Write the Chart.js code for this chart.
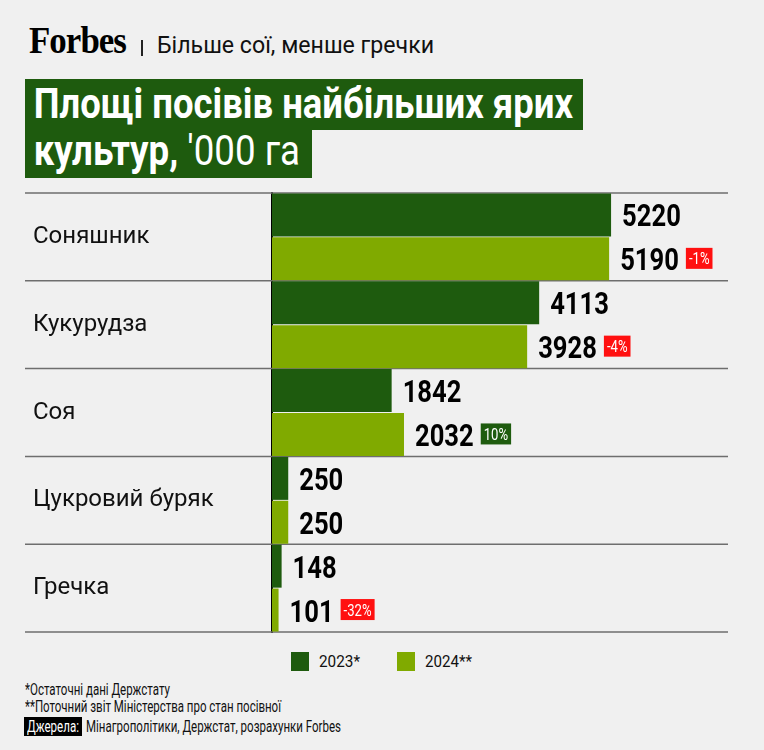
<!DOCTYPE html>
<html>
<head>
<meta charset="utf-8">
<script src="https://cdn.jsdelivr.net/npm/chart.js@4"></script>
<style>
  body { margin: 0; background: #f0f0f0; width: 764px; height: 750px; overflow: hidden; position: relative;
         font-family: Roboto, sans-serif; color: #111; }
  .abs { position: absolute; white-space: nowrap; }
  .fit { display: inline-block; transform-origin: 0 0; }
  .logo { left: 29px; top: 20px; font-family: "Liberation Serif", serif; font-weight: bold; font-size: 37px;
          letter-spacing: -1px; color: #000; line-height: 42px; }
  .pipe { left: 141px; top: 40px; width: 1.5px; height: 16px; background: #222; }
  .sub { left: 157px; top: 30px; font-size: 24px; line-height: 30px; }
  .box { background: #1e5b0e; color: #fff; left: 25px; overflow: hidden; }
  .box .fit { font-weight: bold; font-size: 42px; line-height: 48px; padding-left: 10px; }
  .thin { font-weight: normal; }
  #wrap { position: absolute; left: 25px; top: 191px; width: 703px; height: 443px; }
  .note { left: 25px; font-size: 16px; line-height: 18px; }
  .srcTag { left: 24px; top: 717px; width: 58px; height: 19px; background: #000; }
  .leg { top: 652px; width: 18px; height: 19px; }
  .legTxt { top: 651px; font-size: 17px; line-height: 20px; }
</style>
</head>
<body>
<div class="abs logo"><span class="fit" data-w="97">Forbes</span></div>
<div class="abs pipe"></div>
<div class="abs sub"><span class="fit" data-w="277">Більше сої, менше гречки</span></div>
<div class="abs box" style="top:79px;width:558px;height:51px"><span class="fit" data-w="548" style="margin-top:1px">Площі посівів найбільших ярих</span></div>
<div class="abs box" style="top:130px;width:287px;height:48px"><span class="fit" data-w="275" style="margin-top:-3px">культур, <span class="thin">'000 га</span></span></div>
<div id="wrap"><canvas id="chart"></canvas></div>
<div id="legend"></div>
<div class="abs note" style="top:681px"><span class="fit" data-w="145">*Остаточні дані Держстату</span></div>
<div class="abs note" style="top:698px"><span class="fit" data-w="256">**Поточний звіт Міністерства про стан посівної</span></div>
<div class="abs srcTag"></div>
<div class="abs note" style="top:718px;left:27px;color:#fff"><span class="fit" data-w="52">Джерела:</span></div>
<div class="abs note" style="top:718px;left:86px"><span class="fit" data-w="255">Мінагрополітики, Держстат, розрахунки Forbes</span></div>
<script>
const crops = ["Соняшник", "Кукурудза", "Соя", "Цукровий буряк", "Гречка"];
const area2023 = [5220, 4113, 1842, 250, 148];
const area2024 = [5190, 3928, 2032, 250, 101];
const change = ["-1%", "-4%", "10%", "", "-32%"];
const seriesNames = ["2023*", "2024**"];
const colors = ["#1e5b0e", "#80aa00"];

// html legend
const legPos = [[291, 319, 41], [397, 425, 47]];
document.getElementById('legend').innerHTML = seriesNames.map((n, i) =>
  `<div class="abs leg" style="left:${legPos[i][0]}px;background:${colors[i]}"></div>` +
  `<div class="abs legTxt" style="left:${legPos[i][1]}px"><span class="fit" data-w="${legPos[i][2]}">${n}</span></div>`
).join('');

// squeeze text to the condensed widths of the original
document.querySelectorAll('.fit').forEach(el => {
  const w = +el.dataset.w;
  el.style.transform = `scaleX(${w / el.getBoundingClientRect().width})`;
});

const FONT = 'Roboto, sans-serif';
const SQ = 0.8; // horizontal squeeze for canvas numbers

// separators between categories, full width
const separators = {
  id: 'separators',
  beforeDatasetsDraw(chart) {
    const ctx = chart.ctx, y = chart.scales.y;
    const step = y.getPixelForValue(1) - y.getPixelForValue(0);
    ctx.save();
    ctx.strokeStyle = '#6e6e6e';
    ctx.lineWidth = 1.5;
    for (let i = 0; i <= crops.length; i++) {
      const py = y.getPixelForValue(i) - step / 2;
      ctx.beginPath();
      ctx.moveTo(0, py);
      ctx.lineTo(chart.width, py);
      ctx.stroke();
    }
    ctx.restore();
  }
};

function squeezedText(ctx, txt, x, y) {
  ctx.save();
  ctx.translate(x, y);
  ctx.scale(SQ, 1);
  ctx.fillText(txt, 0, 0);
  ctx.restore();
  return ctx.measureText(txt).width * SQ;
}

// value labels and change badges
const valueLabels = {
  id: 'valueLabels',
  afterDatasetsDraw(chart) {
    const ctx = chart.ctx;
    ctx.save();
    ctx.textBaseline = 'alphabetic';
    ctx.textAlign = 'left';
    chart.data.datasets.forEach((ds, di) => {
      chart.getDatasetMeta(di).data.forEach((bar, i) => {
        const x = bar.x + 11;
        ctx.font = 'bold 32px ' + FONT;
        ctx.fillStyle = '#000';
        const w = squeezedText(ctx, String(ds.data[i]), x, bar.y + 11.5);
        if (di === 1 && change[i]) {
          ctx.font = '16px ' + FONT;
          const bw = ctx.measureText(change[i]).width * 0.82 + 6;
          const bx = x + w + 7;
          ctx.fillStyle = change[i].startsWith('-') ? '#ff1010' : '#1e5b0e';
          ctx.fillRect(bx, bar.y - 11, bw, 21);
          ctx.fillStyle = '#fff';
          ctx.save();
          ctx.translate(bx + 3, bar.y + 5.5);
          ctx.scale(0.82, 1);
          ctx.fillText(change[i], 0, 0);
          ctx.restore();
        }
      });
    });
    ctx.restore();
  }
};

new Chart(document.getElementById('chart'), {
  type: 'bar',
  data: {
    labels: crops,
    datasets: [
      { label: seriesNames[0], data: area2023, backgroundColor: colors[0] },
      { label: seriesNames[1], data: area2024, backgroundColor: colors[1] }
    ]
  },
  options: {
    indexAxis: 'y',
    responsive: true,
    maintainAspectRatio: false,
    animation: false,
    layout: { padding: { top: 2, bottom: 2, left: 8 } },
    datasets: { bar: { categoryPercentage: 1.0, barPercentage: 0.98 } },
    scales: {
      x: { display: false, min: 0, max: 7020 },
      y: {
        grid: { display: false },
        border: { display: true, color: '#000', width: 2 },
        afterFit(scale) { scale.width = 239; scale.paddingTop = 0; scale.paddingBottom = 0; },
        ticks: {
          crossAlign: 'far',
          color: '#111',
          font: { family: FONT, size: 24 }
        }
      }
    },
    plugins: {
      legend: { display: false },
      tooltip: { enabled: false }
    }
  },
  plugins: [separators, valueLabels]
});
</script>
</body>
</html>
